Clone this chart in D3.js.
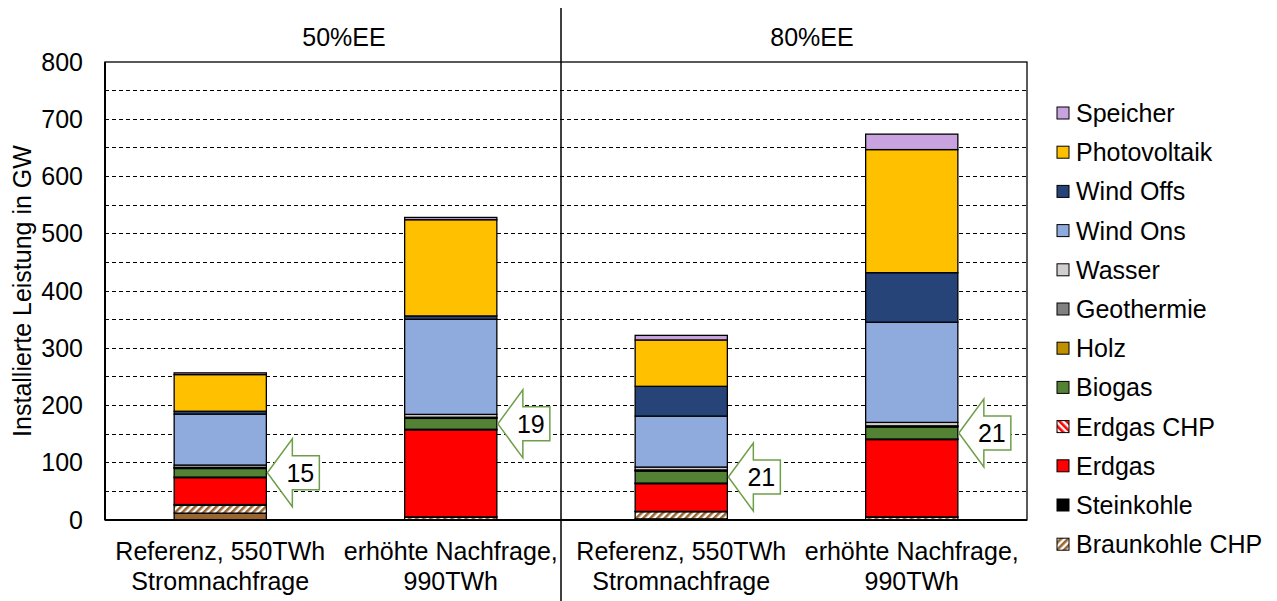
<!DOCTYPE html>
<html>
<head>
<meta charset="utf-8">
<script src="https://cdn.jsdelivr.net/npm/d3@7/dist/d3.min.js"></script>
<style>
  html, body { margin: 0; padding: 0; background: #fff; }
  svg { display: block; font-family: "Liberation Sans", Arial, sans-serif; }
</style>
</head>
<body>
<svg id="chart" width="1277" height="601"></svg>
<script>
// Szenarien (Kategorien auf der x-Achse)
const categoryLine1 = ["Referenz, 550TWh", "erhöhte Nachfrage,", "Referenz, 550TWh", "erhöhte Nachfrage,"];
const categoryLine2 = ["Stromnachfrage", "990TWh", "Stromnachfrage", "990TWh"];
const groupLabels = ["50%EE", "80%EE"];
const yTicks = [0, 100, 200, 300, 400, 500, 600, 700, 800];

// Installierte Leistung je Technologie in GW
const braunkohle    = [12, 0, 2, 0];
const braunkohleCHP = [14, 5, 12.5, 5];
const steinkohle    = [1, 0.5, 0.5, 0.5];
const erdgas        = [47, 152, 48.5, 135];
const erdgasCHP     = [1, 1, 1, 1];
const biogas        = [15, 19, 21, 21];
const holz          = [1, 1, 1, 1];
const geothermie    = [1, 1, 1, 1];
const wasser        = [4, 5, 5, 6];
const windOns       = [89, 166, 89, 175];
const windOffs      = [5, 6, 52, 86.5];
const photovoltaik  = [64, 168, 81, 215];
const speicher      = [3, 4, 8, 27];

// Stapelreihenfolge von unten nach oben
const seriesDefs = [
  { key: "Braunkohle",     values: braunkohle,    fill: "#9B6531", legend: false },
  { key: "Braunkohle CHP", values: braunkohleCHP, fill: "url(#hatchBrown)", legend: true },
  { key: "Steinkohle",     values: steinkohle,    fill: "#000000", legend: true },
  { key: "Erdgas",         values: erdgas,        fill: "#FF0000", legend: true },
  { key: "Erdgas CHP",     values: erdgasCHP,     fill: "url(#hatchRed)", legend: true },
  { key: "Biogas",         values: biogas,        fill: "#548235", legend: true },
  { key: "Holz",           values: holz,          fill: "#BF9000", legend: true },
  { key: "Geothermie",     values: geothermie,    fill: "#808080", legend: true },
  { key: "Wasser",         values: wasser,        fill: "#D0CECE", legend: true },
  { key: "Wind Ons",       values: windOns,       fill: "#8FAADC", legend: true },
  { key: "Wind Offs",      values: windOffs,      fill: "#264478", legend: true },
  { key: "Photovoltaik",   values: photovoltaik,  fill: "#FFC000", legend: true },
  { key: "Speicher",       values: speicher,      fill: "#C9A3E0", legend: true }
];

const FONT = 25;
const svg = d3.select("#chart");
const margin = { left: 105, right: 1027, top: 62, bottom: 520 };

// Schraffuren
const defs = svg.append("defs");
function hatch(id, color, angle) {
  const p = defs.append("pattern")
    .attr("id", id)
    .attr("patternUnits", "userSpaceOnUse")
    .attr("width", 5).attr("height", 5)
    .attr("patternTransform", `rotate(${angle})`);
  p.append("rect").attr("width", 5).attr("height", 5).attr("fill", "#fff");
  p.append("rect").attr("width", 2.6).attr("height", 5).attr("fill", color);
}
hatch("hatchBrown", "#9B6531", 45);
hatch("hatchRed", "#FF0000", -45);

const idx = d3.range(categoryLine1.length);
const x = d3.scaleBand(idx, [margin.left, margin.right]).paddingInner(0.6).paddingOuter(0.3);
const y = d3.scaleLinear([0, 800], [margin.bottom, margin.top]);

// Gitterlinien (gestrichelt, alle 50 GW)
const gridVals = d3.range(50, 800, 50);
svg.append("g").selectAll("line").data(gridVals).join("line")
  .attr("x1", margin.left).attr("x2", margin.right)
  .attr("y1", d => y(d)).attr("y2", d => y(d))
  .attr("stroke", "#000").attr("stroke-width", 1)
  .attr("stroke-dasharray", "4,3")
  .attr("shape-rendering", "crispEdges");

// Gestapelte Balken
const rows = idx.map(i => {
  const r = {};
  seriesDefs.forEach(s => r[s.key] = s.values[i]);
  return r;
});
const stack = d3.stack().keys(seriesDefs.map(s => s.key));
const stacked = stack(rows);

const barG = svg.append("g");
stacked.forEach((layer, li) => {
  barG.append("g").selectAll("rect").data(layer).join("rect")
    .attr("x", (d, i) => x(i))
    .attr("width", x.bandwidth())
    .attr("y", d => y(d[1]))
    .attr("height", d => Math.max(0, y(d[0]) - y(d[1])))
    .attr("fill", seriesDefs[li].fill)
    .attr("stroke", "#000")
    .attr("stroke-width", 1.3);
});

// Rahmen der Zeichenfläche
svg.append("rect")
  .attr("x", margin.left).attr("y", margin.top)
  .attr("width", margin.right - margin.left).attr("height", margin.bottom - margin.top)
  .attr("fill", "none").attr("stroke", "#000").attr("stroke-width", 1.3);
svg.append("line")
  .attr("x1", margin.left).attr("x2", margin.right)
  .attr("y1", margin.bottom).attr("y2", margin.bottom)
  .attr("stroke", "#000").attr("stroke-width", 2);
svg.append("line")
  .attr("x1", margin.left).attr("x2", margin.left)
  .attr("y1", margin.top).attr("y2", margin.bottom)
  .attr("stroke", "#000").attr("stroke-width", 2);

// y-Achse
const yAxis = d3.axisLeft(y).tickValues(yTicks).tickSize(0).tickPadding(22);
const yg = svg.append("g").attr("transform", `translate(${margin.left},0)`).call(yAxis);
yg.select(".domain").remove();
yg.selectAll("text").attr("font-size", FONT).attr("fill", "#000")
  .attr("font-family", "'Liberation Sans', Arial, sans-serif");

svg.append("text")
  .attr("transform", `translate(31,${(margin.top + margin.bottom) / 2}) rotate(-90)`)
  .attr("text-anchor", "middle")
  .attr("font-size", FONT)
  .text("Installierte Leistung in GW");

// Kategorien
const catG = svg.append("g").attr("font-size", FONT).attr("text-anchor", "middle");
idx.forEach(i => {
  const cx = x(i) + x.bandwidth() / 2;
  catG.append("text").attr("x", cx).attr("y", 560).text(categoryLine1[i]);
  catG.append("text").attr("x", cx).attr("y", 590).text(categoryLine2[i]);
});

// Szenario-Überschriften und Trennlinie
const groupCenters = [344, 812];
groupLabels.forEach((g, i) => {
  svg.append("text").attr("x", groupCenters[i]).attr("y", 46)
    .attr("text-anchor", "middle").attr("font-size", FONT).text(g);
});
svg.append("line").attr("x1", 561).attr("x2", 561).attr("y1", 8).attr("y2", 601)
  .attr("stroke", "#000").attr("stroke-width", 1.5);

// Pfeile mit Biogas-Leistung
const biogasLayer = stacked[seriesDefs.findIndex(s => s.key === "Biogas")];
const arrowG = svg.append("g");
idx.forEach(i => {
  const d = biogasLayer[i];
  const tx = x(i) + x.bandwidth() + 1;
  const ty = y((d[0] + d[1]) / 2);
  const headLen = 25, headHalf = 34, shaftHalf = 17, total = 52;
  const pts = [
    [tx, ty],
    [tx + headLen, ty - headHalf],
    [tx + headLen, ty - shaftHalf],
    [tx + total, ty - shaftHalf],
    [tx + total, ty + shaftHalf],
    [tx + headLen, ty + shaftHalf],
    [tx + headLen, ty + headHalf]
  ];
  arrowG.append("path")
    .attr("d", "M" + pts.map(p => p.join(",")).join("L") + "Z")
    .attr("fill", "#fff").attr("stroke", "#6E9E48").attr("stroke-width", 1.5);
  arrowG.append("text")
    .attr("x", tx + 33).attr("y", ty + 9)
    .attr("text-anchor", "middle").attr("font-size", FONT)
    .text(biogas[i]);
});

// Legende (oben nach unten in umgekehrter Stapelfolge)
const legendItems = seriesDefs.filter(s => s.legend).slice().reverse();
const lg = svg.append("g");
legendItems.forEach((s, k) => {
  const cy = 113 + k * 39.2;
  lg.append("rect").attr("x", 1057).attr("y", cy - 6).attr("width", 12).attr("height", 12)
    .attr("fill", s.fill).attr("stroke", "#000").attr("stroke-width", 1);
  lg.append("text").attr("x", 1076).attr("y", cy + 9).attr("font-size", FONT).text(s.key);
});
</script>
</body>
</html>
